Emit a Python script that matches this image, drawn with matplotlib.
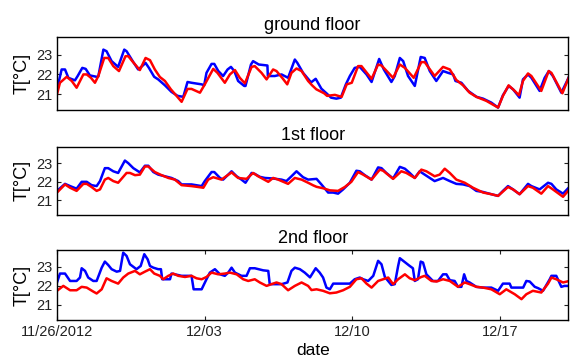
import numpy as np
import matplotlib
matplotlib.use('Agg')
import matplotlib.pyplot as plt

# (days after 11/26/2012 00:00, temperature in degC)
ground_meas = [(0.00, 21.25), (0.22, 22.25), (0.38, 22.25), (0.54, 21.83), (0.85, 21.70), (0.98, 21.92),
               (1.20, 22.33), (1.36, 22.28), (1.56, 21.95), (1.88, 21.88), (1.96, 21.90), (2.20, 23.25),
               (2.35, 23.17), (2.59, 22.67), (2.90, 22.38), (3.19, 23.25), (3.30, 23.17), (3.62, 22.62),
               (3.85, 22.25), (4.04, 22.42), (4.20, 22.58), (4.36, 22.33), (4.61, 21.88), (4.80, 21.75),
               (5.12, 21.45), (5.43, 21.12), (5.72, 20.92), (5.99, 20.87), (6.19, 21.62), (6.38, 21.58),
               (6.86, 21.50), (6.98, 21.45), (7.09, 22.08), (7.33, 22.53), (7.46, 22.53), (7.65, 22.17),
               (7.88, 21.92), (8.09, 22.25), (8.25, 22.38), (8.41, 22.17), (8.59, 21.67), (8.88, 21.42),
               (8.94, 21.42), (9.20, 22.50), (9.30, 22.67), (9.57, 22.50), (9.98, 22.45), (10.00, 21.92),
               (10.33, 21.92), (10.65, 22.00), (10.96, 21.83), (11.28, 22.75), (11.40, 22.58), (11.67, 22.08),
               (12.05, 21.60), (12.27, 21.78), (12.54, 21.28), (12.78, 21.05), (13.00, 20.83), (13.25, 20.78),
               (13.46, 20.83), (13.70, 21.50), (13.89, 21.92), (14.12, 22.33), (14.36, 22.38), (14.68, 22.00),
               (14.92, 21.62), (15.28, 22.78), (15.50, 22.25), (15.86, 21.62), (16.02, 21.92), (16.26, 22.83),
               (16.42, 22.67), (16.65, 21.92), (16.97, 21.42), (17.25, 22.88), (17.44, 22.83), (17.68, 22.17),
               (17.99, 21.67), (18.31, 22.17), (18.55, 22.08), (18.79, 22.00), (18.90, 21.67), (19.18, 21.58),
               (19.50, 21.17), (19.90, 20.87), (20.21, 20.78), (20.60, 20.58), (20.92, 20.33), (21.15, 20.95),
               (21.42, 21.42), (21.63, 21.25), (21.94, 20.83), (22.10, 21.75), (22.34, 22.00), (22.50, 21.83),
               (22.89, 21.17), (23.13, 21.83), (23.33, 22.17), (23.52, 21.92), (23.92, 21.08), (24.15, 21.58),
               (24.30, 21.92)]
ground_sim = [(0.00, 21.00), (0.14, 21.58), (0.46, 21.88), (0.70, 21.67), (0.93, 21.33), (1.25, 22.00),
              (1.41, 22.00), (1.61, 21.83), (1.80, 21.58), (1.96, 21.92), (2.24, 22.83), (2.43, 22.83),
              (2.67, 22.42), (2.94, 22.17), (3.25, 22.92), (3.38, 22.92), (3.57, 22.67), (3.93, 22.22),
              (4.20, 22.83), (4.41, 22.72), (4.64, 22.25), (4.88, 21.87), (5.12, 21.67), (5.40, 21.25),
              (5.67, 20.92), (5.91, 20.62), (6.19, 21.27), (6.38, 21.27), (6.78, 21.08), (7.01, 21.50),
              (7.41, 22.28), (7.61, 22.08), (7.96, 21.58), (8.20, 22.00), (8.44, 22.22), (8.67, 21.83),
              (8.91, 21.55), (9.23, 22.38), (9.38, 22.42), (9.70, 22.08), (9.94, 21.75), (10.25, 22.25),
              (10.41, 22.17), (10.68, 21.83), (10.92, 21.50), (11.12, 22.08), (11.36, 22.30), (11.60, 22.17),
              (11.91, 21.67), (12.10, 21.45), (12.30, 21.25), (12.67, 21.05), (12.81, 20.92), (13.18, 20.97),
              (13.50, 20.87), (13.74, 21.50), (13.98, 21.58), (14.28, 22.42), (14.44, 22.42), (14.92, 21.78),
              (15.23, 22.50), (15.39, 22.45), (15.94, 21.83), (16.26, 22.50), (16.50, 22.33), (16.92, 21.83),
              (17.28, 22.62), (17.44, 22.62), (17.91, 21.92), (18.31, 22.38), (18.63, 22.25), (18.94, 21.72),
              (19.26, 21.45), (19.57, 21.08), (19.89, 20.87), (20.36, 20.67), (20.92, 20.33), (21.15, 20.92),
              (21.42, 21.45), (21.71, 21.17), (21.91, 20.95), (22.10, 21.67), (22.34, 22.05), (22.50, 21.92),
              (22.97, 21.17), (23.32, 22.17), (23.45, 22.08), (23.97, 21.05), (24.30, 21.92)]

first_meas = [(0.00, 21.50), (0.38, 21.88), (0.62, 21.76), (0.93, 21.62), (1.17, 21.99), (1.41, 21.99),
              (1.64, 21.81), (1.88, 21.76), (2.04, 22.03), (2.27, 22.73), (2.43, 22.73), (2.67, 22.56),
              (2.90, 22.47), (3.22, 23.14), (3.38, 23.00), (3.62, 22.73), (3.93, 22.50), (4.17, 22.86),
              (4.33, 22.86), (4.57, 22.52), (4.80, 22.38), (5.12, 22.29), (5.43, 22.20), (5.75, 22.03),
              (5.91, 21.85), (6.38, 21.85), (6.86, 21.76), (7.01, 22.03), (7.33, 22.52), (7.46, 22.52),
              (7.73, 22.20), (7.88, 22.11), (8.28, 22.56), (8.52, 22.29), (8.75, 22.11), (8.94, 21.94),
              (9.23, 22.47), (9.38, 22.42), (9.62, 22.26), (9.86, 22.20), (10.25, 22.17), (10.65, 22.11),
              (10.88, 22.03), (11.12, 22.29), (11.36, 22.56), (11.67, 22.24), (11.91, 22.11), (12.31, 22.15),
              (12.54, 21.85), (12.86, 21.41), (13.10, 21.41), (13.33, 21.35), (13.57, 21.58), (13.89, 21.94),
              (14.20, 22.59), (14.36, 22.56), (14.60, 22.35), (14.92, 22.11), (15.23, 22.77), (15.39, 22.73),
              (15.62, 22.47), (15.94, 22.17), (16.26, 22.80), (16.50, 22.70), (16.73, 22.47), (16.97, 22.20),
              (17.20, 22.56), (17.44, 22.38), (17.68, 22.20), (17.91, 22.03), (18.31, 22.20), (18.63, 22.03),
              (18.94, 21.88), (19.26, 21.85), (19.57, 21.76), (19.89, 21.50), (20.21, 21.44), (20.60, 21.32),
              (20.92, 21.23), (21.15, 21.50), (21.39, 21.76), (21.63, 21.58), (21.94, 21.32), (22.34, 21.88),
              (22.50, 21.76), (22.89, 21.58), (23.29, 21.94), (23.45, 21.88), (23.68, 21.58), (24.00, 21.35),
              (24.30, 21.71)]
first_sim = [(0.00, 21.41), (0.38, 21.85), (0.62, 21.67), (0.93, 21.50), (1.25, 21.88), (1.41, 21.88),
             (1.64, 21.71), (1.88, 21.50), (2.04, 21.58), (2.27, 22.11), (2.43, 22.20), (2.67, 22.03),
             (2.90, 21.94), (3.30, 22.47), (3.46, 22.47), (3.70, 22.35), (3.93, 22.38), (4.17, 22.82),
             (4.33, 22.82), (4.64, 22.52), (4.96, 22.35), (5.28, 22.20), (5.59, 22.11), (5.91, 21.81),
             (6.38, 21.76), (6.70, 21.71), (6.94, 21.67), (7.17, 22.11), (7.41, 22.24), (7.80, 22.11),
             (8.28, 22.50), (8.59, 22.20), (8.99, 22.15), (9.30, 22.47), (9.54, 22.29), (10.02, 21.99),
             (10.25, 22.20), (10.49, 22.11), (10.96, 21.88), (11.28, 22.20), (11.60, 22.11), (11.91, 21.94),
             (12.15, 21.80), (12.31, 21.72), (12.63, 21.64), (12.94, 21.53), (13.33, 21.50), (13.65, 21.71),
             (13.96, 21.99), (14.28, 22.52), (14.52, 22.38), (14.92, 22.11), (15.31, 22.65), (15.47, 22.59),
             (15.94, 22.15), (16.33, 22.56), (16.57, 22.47), (16.97, 22.20), (17.28, 22.65), (17.52, 22.56),
             (17.91, 22.29), (18.15, 22.38), (18.39, 22.70), (18.63, 22.47), (18.94, 22.11), (19.34, 21.94),
             (19.73, 21.67), (20.21, 21.41), (20.60, 21.32), (20.92, 21.23), (21.39, 21.71), (21.63, 21.58),
             (21.94, 21.32), (22.34, 21.76), (22.57, 21.67), (22.97, 21.35), (23.29, 21.76), (23.52, 21.58),
             (24.00, 21.18), (24.30, 21.58)]

second_meas = [(0.00, 22.18), (0.14, 22.65), (0.38, 22.65), (0.62, 22.26), (0.93, 22.26), (1.09, 22.44),
               (1.17, 22.93), (1.33, 22.79), (1.48, 22.44), (1.72, 22.26), (1.88, 22.26), (2.12, 22.96),
               (2.27, 23.28), (2.43, 23.10), (2.59, 22.88), (2.83, 22.75), (2.99, 22.79), (3.14, 23.75),
               (3.30, 23.58), (3.46, 23.14), (3.77, 22.88), (3.97, 23.05), (4.14, 23.67), (4.30, 23.40),
               (4.41, 23.05), (4.57, 22.96), (4.80, 22.88), (4.93, 22.88), (4.99, 22.35), (5.36, 22.35),
               (5.43, 22.65), (5.59, 22.61), (5.91, 22.53), (6.38, 22.53), (6.48, 21.82), (6.86, 21.82),
               (7.09, 22.35), (7.25, 22.70), (7.49, 22.88), (7.73, 22.61), (7.96, 22.53), (8.12, 22.70),
               (8.28, 22.96), (8.44, 22.70), (8.75, 22.53), (8.99, 22.53), (9.15, 22.93), (9.38, 22.93),
               (9.78, 22.82), (10.02, 22.79), (10.09, 22.09), (10.65, 22.09), (10.93, 22.18), (11.12, 22.79),
               (11.28, 22.96), (11.52, 22.88), (11.75, 22.70), (12.00, 22.45), (12.27, 22.93), (12.46, 22.70),
               (12.62, 22.44), (12.78, 21.91), (12.94, 21.82), (13.10, 22.12), (13.89, 22.12), (14.12, 22.35),
               (14.36, 22.44), (14.52, 22.35), (14.76, 22.26), (15.00, 22.53), (15.23, 23.32), (15.39, 23.14),
               (15.55, 22.47), (15.86, 22.05), (16.02, 22.09), (16.18, 23.05), (16.26, 23.46), (16.42, 23.32),
               (16.73, 23.05), (16.88, 22.93), (16.97, 22.26), (17.12, 22.35), (17.25, 23.28), (17.36, 23.23),
               (17.52, 22.61), (17.83, 22.26), (18.07, 22.26), (18.31, 22.61), (18.47, 22.61), (18.63, 22.30),
               (18.86, 22.26), (19.02, 21.95), (19.18, 21.95), (19.31, 22.61), (19.42, 22.26), (19.57, 22.18),
               (19.89, 21.95), (20.21, 21.91), (20.60, 21.91), (20.92, 21.74), (21.15, 22.12), (21.47, 22.12),
               (21.55, 21.91), (22.11, 21.91), (22.26, 22.26), (22.42, 22.23), (22.66, 21.95), (22.82, 21.88),
               (23.05, 21.74), (23.37, 22.35), (23.45, 22.53), (23.68, 22.53), (23.92, 21.95), (24.07, 22.00),
               (24.30, 22.00)]
second_sim = [(0.00, 21.74), (0.30, 22.00), (0.62, 21.77), (0.93, 21.77), (1.17, 21.95), (1.41, 21.91),
              (1.72, 21.70), (1.88, 21.60), (2.12, 21.82), (2.35, 22.40), (2.59, 22.26), (2.90, 22.12),
              (3.14, 22.44), (3.38, 22.65), (3.70, 22.79), (3.93, 22.61), (4.17, 22.75), (4.41, 22.88),
              (4.61, 22.65), (4.88, 22.53), (5.04, 22.35), (5.28, 22.53), (5.51, 22.65), (5.75, 22.53),
              (6.07, 22.47), (6.38, 22.53), (6.62, 22.40), (6.86, 22.35), (7.09, 22.47), (7.33, 22.70),
              (7.65, 22.61), (7.96, 22.65), (8.20, 22.70), (8.52, 22.61), (8.83, 22.35), (9.07, 22.26),
              (9.38, 22.35), (9.62, 22.18), (9.94, 22.00), (10.17, 22.09), (10.41, 22.18), (10.65, 22.09),
              (10.96, 21.77), (11.28, 22.00), (11.60, 22.18), (11.91, 22.00), (12.07, 21.78), (12.31, 21.82),
              (12.62, 21.74), (12.94, 21.61), (13.25, 21.65), (13.57, 21.77), (13.89, 21.95), (14.20, 22.35),
              (14.44, 22.40), (14.68, 22.12), (14.92, 21.91), (15.23, 22.26), (15.71, 22.44), (15.94, 22.09),
              (16.18, 22.35), (16.50, 22.61), (16.73, 22.40), (16.97, 22.30), (17.28, 22.47), (17.44, 22.53),
              (17.76, 22.26), (18.00, 22.23), (18.31, 22.35), (18.63, 22.26), (19.02, 21.95), (19.34, 22.18),
              (19.57, 22.09), (19.89, 21.95), (20.21, 21.91), (20.60, 21.82), (21.00, 21.56), (21.31, 21.82),
              (21.71, 21.56), (22.03, 21.30), (22.26, 21.56), (22.57, 21.74), (22.97, 21.65), (23.29, 22.12),
              (23.45, 22.44), (23.68, 22.35), (24.00, 22.18), (24.30, 22.26)]

floor_titles = ['ground floor', '1st floor', '2nd floor']
tick_days = [0, 7, 14, 21]
tick_labels = ['11/26/2012', '12/03', '12/10', '12/17']
y_ticks = [21, 22, 23]

START = np.datetime64('2012-11-26T00:00')


def to_dates(days):
    return START + (np.asarray(days) * 86400).astype('timedelta64[s]')


def plot_floors():
    plt.rcParams['font.family'] = ['Liberation Sans', 'DejaVu Sans']
    fig = plt.figure(figsize=(5.7, 3.6), dpi=100)
    boxes = [(0.100, 0.694, 0.897, 0.204),
             (0.100, 0.403, 0.897, 0.190),
             (0.100, 0.111, 0.897, 0.195)]
    data = [(ground_meas, ground_sim), (first_meas, first_sim), (second_meas, second_sim)]

    for i, (box, (meas, sim)) in enumerate(zip(boxes, data)):
        ax = fig.add_axes(box)
        for series, color in ((meas, 'b'), (sim, 'r')):
            d, t = zip(*series)
            ax.plot(to_dates(d), t, color=color, lw=1.8)
        ax.set_xlim(START, to_dates([24.25])[0])
        ax.set_ylim(20.2, 23.9)
        ax.set_yticks(y_ticks)
        ax.set_ylabel('T[°C]', fontsize=13, labelpad=4)
        ax.set_title(floor_titles[i], fontsize=13, pad=5)
        ax.tick_params(direction='in', top=True, right=True, length=3,
                       labelsize=10.5, colors='#222222')
        if i == 2:
            ax.set_xticks(to_dates(tick_days))
            ax.set_xticklabels(tick_labels)
            ax.set_xlabel('date', fontsize=12.5, labelpad=3)
        else:
            ax.set_xticks([])
        for s in ax.spines.values():
            s.set_linewidth(1.0)

    fig.savefig('out.png', dpi=100)


if __name__ == '__main__':
    plot_floors()
